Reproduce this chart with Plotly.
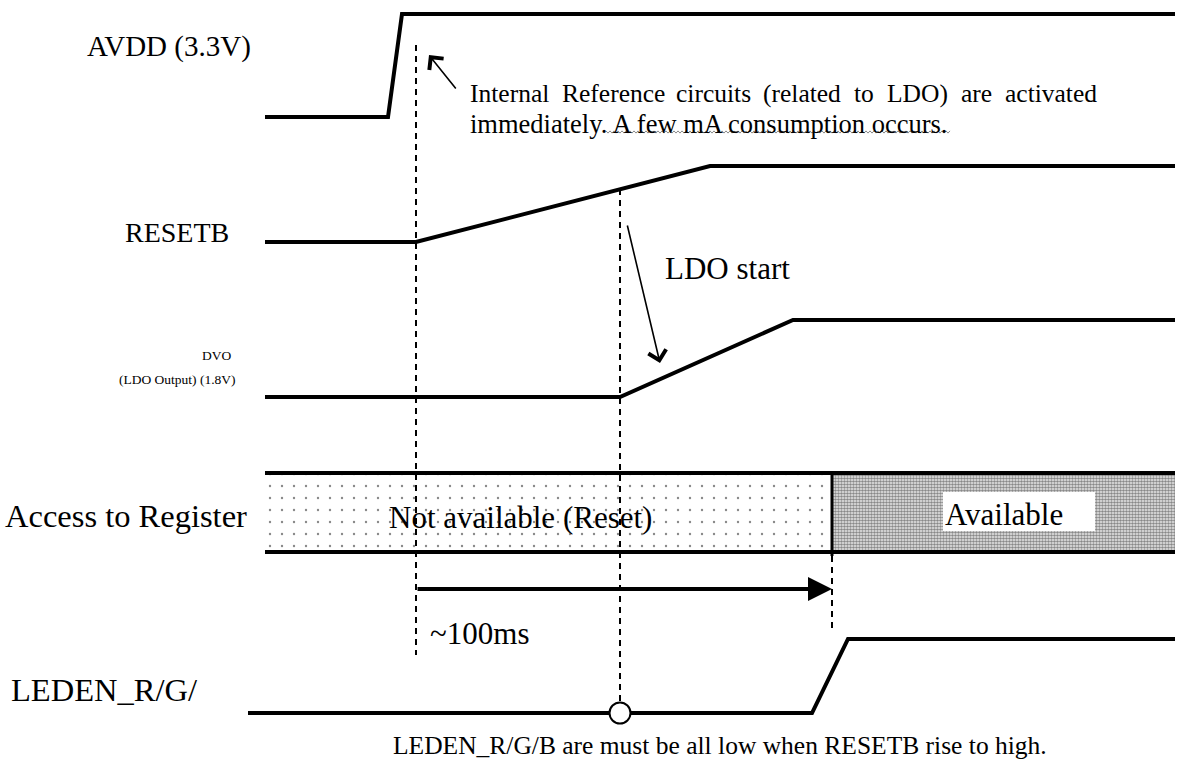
import plotly.graph_objects as go

# ---- waveform data (time position, level) in drawing units ----
avdd_t = [265, 388, 402, 1175]
avdd_v = [117, 117, 14, 14]
resetb_t = [265, 416, 710, 1175]
resetb_v = [242, 242, 166, 166]
dvo_t = [265, 620, 793, 1175]
dvo_v = [397, 397, 320, 320]
leden_t = [248, 812, 848, 1175]
leden_v = [713, 713, 639, 639]

reg_t = [265, 832, 1175]          # register box: start, available-from, end
reg_top, reg_bot = 473, 552

# dashed markers: (x, y_start, y_end)
marker_x = [416, 620, 832]
marker_y0 = [45, 189, 556]
marker_y1 = [655, 703, 630]

labels = ["AVDD (3.3V)", "RESETB", "DVO", "(LDO Output) (1.8V)", "Access to Register", "LEDEN_R/G/"]

FONT = "Liberation Serif"
BLK = "black"

fig = go.Figure()

def wave(t, v, w=4):
    fig.add_trace(go.Scatter(x=t, y=v, mode="lines", line=dict(color=BLK, width=w),
                             hoverinfo="skip", showlegend=False))

# register fills
fig.add_trace(go.Scatter(
    x=[reg_t[0], reg_t[1], reg_t[1], reg_t[0], reg_t[0]],
    y=[reg_top, reg_top, reg_bot, reg_bot, reg_top],
    mode="lines", line=dict(width=0), fill="toself",
    fillpattern=dict(shape=".", size=12, solidity=0.03, fgcolor="#111", bgcolor="white"),
    showlegend=False, hoverinfo="skip"))
fig.add_trace(go.Scatter(
    x=[reg_t[1], reg_t[2], reg_t[2], reg_t[1], reg_t[1]],
    y=[reg_top, reg_top, reg_bot, reg_bot, reg_top],
    mode="lines", line=dict(width=0), fill="toself",
    fillpattern=dict(shape=".", size=3, solidity=0.6, fgcolor="#222", bgcolor="#eeeeee"),
    showlegend=False, hoverinfo="skip"))

# dashed markers
for x, y0, y1 in zip(marker_x, marker_y0, marker_y1):
    fig.add_trace(go.Scatter(x=[x, x], y=[y0, y1], mode="lines",
                             line=dict(color=BLK, width=2, dash="6px,5px"),
                             showlegend=False, hoverinfo="skip"))

wave(avdd_t, avdd_v)
wave(resetb_t, resetb_v)
wave(dvo_t, dvo_v)
wave(leden_t, leden_v)
# register box lines
wave([reg_t[0], reg_t[2]], [reg_top, reg_top])
wave([reg_t[0], reg_t[2]], [reg_bot, reg_bot])
wave([reg_t[1], reg_t[1]], [reg_top, reg_bot + 4], 3)

# circle on LEDEN line under RESETB threshold
fig.add_trace(go.Scatter(x=[marker_x[1]], y=[leden_v[0]], mode="markers",
                         marker=dict(size=21, color="white", line=dict(color=BLK, width=2)),
                         showlegend=False, hoverinfo="skip"))

ann = []
def txt(x, y, s, size, anchor="left", **kw):
    ann.append(dict(x=x, y=y, xref="x", yref="y", text=s, showarrow=False,
                    xanchor=anchor, yanchor="middle",
                    font=dict(family=FONT, size=size, color=BLK), **kw))

txt(253, 46, labels[0], 29, "right")
txt(231, 232, labels[1], 28, "right")
txt(233, 355, labels[2], 13.5, "right")
txt(238, 379, labels[3], 13.5, "right")
txt(249, 516, labels[4], 32.5, "right")
txt(200, 690, labels[5], 32.5, "right")

# justified first line of note
words = ["Internal", "Reference", "circuits", "(related", "to", "LDO)", "are", "activated"]
wx = [469, 561, 675, 762, 853, 886, 960, 1004]
for w, x in zip(words, wx):
    txt(x - 1, 93.5, w, 25.5)
txt(468, 123.5, "immediately. A few mA consumption occurs.", 26.5)

txt(663, 268, "LDO start", 31)
txt(387, 517, "Not available (Reset)", 31)

shapes = [dict(type="rect", x0=943, x1=1095, y0=492, y1=531, xref="x", yref="y",
               fillcolor="white", line=dict(width=0), layer="above")]
txt(943, 514, "Available", 31)
txt(428, 633, "~100ms", 31)
txt(720, 745, "LEDEN_R/G/B are must be all low when RESETB rise to high.", 25.5, "center")

# arrows
ann.append(dict(x=429, y=55, ax=457, ay=90, xref="x", yref="y", axref="x", ayref="y",
                text="", showarrow=True, arrowhead=4, arrowsize=2.2, arrowwidth=1.6,
                arrowcolor=BLK))
ann.append(dict(x=660, y=363, ax=627, ay=224, xref="x", yref="y", axref="x", ayref="y",
                text="", showarrow=True, arrowhead=4, arrowsize=2.2, arrowwidth=1.6,
                arrowcolor=BLK))
ann.append(dict(x=marker_x[2], y=589, ax=marker_x[0], ay=589, xref="x", yref="y",
                axref="x", ayref="y", text="", showarrow=True, arrowhead=2,
                arrowsize=1.2, arrowwidth=4, arrowcolor=BLK))

# wavy underline
x0, x1, yu = 606, 951, 132
pts = []
xx = x0
k = 0
while xx <= x1:
    pts.append(f"{xx},{yu + (1.1 if k % 2 else -1.1)}")
    xx += 2
    k += 1
path = "M" + " L".join(pts)
shapes.append(dict(type="path", path=path, xref="x", yref="y",
                   line=dict(color="#8a8a8a", width=1)))

fig.update_layout(
    width=1189, height=760, margin=dict(l=0, r=0, t=0, b=0),
    paper_bgcolor="white", plot_bgcolor="white",
    xaxis=dict(range=[0, 1189], visible=False, fixedrange=True),
    yaxis=dict(range=[760, 0], visible=False, fixedrange=True),
    annotations=ann, shapes=shapes, showlegend=False,
)
fig.write_html("out.html", config={"displayModeBar": False},
               post_script="document.body.style.margin='0';document.body.style.overflow='hidden';")
